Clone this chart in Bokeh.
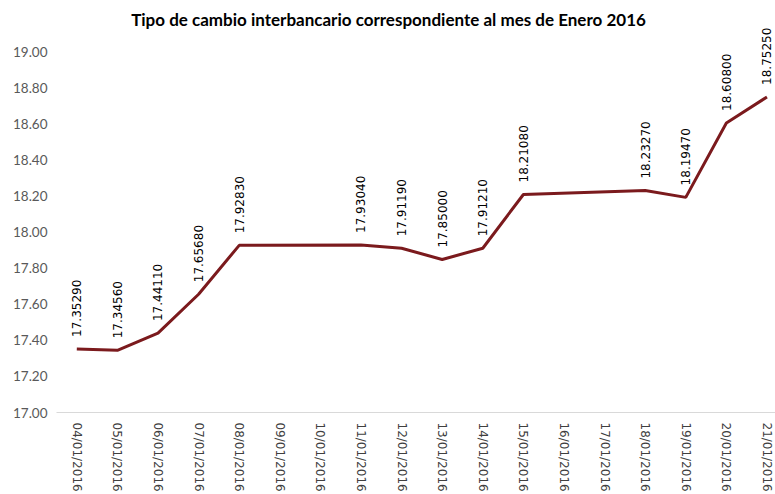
import math
from bokeh.plotting import figure
from bokeh.models import (ColumnDataSource, LabelSet, Label, FixedTicker, NumeralTickFormatter, Range1d)
from bokeh.core.properties import value
from bokeh.embed import file_html
from bokeh.resources import INLINE

# ---- data ----
dates = ["04/01/2016", "05/01/2016", "06/01/2016", "07/01/2016", "08/01/2016",
         "09/01/2016", "10/01/2016", "11/01/2016", "12/01/2016", "13/01/2016",
         "14/01/2016", "15/01/2016", "16/01/2016", "17/01/2016", "18/01/2016",
         "19/01/2016", "20/01/2016", "21/01/2016"]
obs_dates = ["04/01/2016", "05/01/2016", "06/01/2016", "07/01/2016", "08/01/2016",
             "11/01/2016", "12/01/2016", "13/01/2016", "14/01/2016", "15/01/2016",
             "18/01/2016", "19/01/2016", "20/01/2016", "21/01/2016"]
rates = [17.3529, 17.3456, 17.4411, 17.6568, 17.9283,
         17.9304, 17.9119, 17.8500, 17.9121, 18.2108,
         18.2327, 18.1947, 18.6080, 18.7525]
y_ticks = [17.0, 17.2, 17.4, 17.6, 17.8, 18.0, 18.2, 18.4, 18.6, 18.8, 19.0]
title_text = "Tipo de cambio interbancario correspondiente al mes de Enero 2016"

xs = [dates.index(d) for d in obs_dates]
src = ColumnDataSource(dict(x=xs, y=rates, lab=["%.5f" % r for r in rates]))

# the value axis runs 17.00-19.00 over 361 px; the plot area continues to the top edge
y_top = 17.0 + 2.0 * 413 / 361

p = figure(width=775, height=494, output_backend="svg", toolbar_location=None,
           x_range=Range1d(-0.5, 17.21), y_range=Range1d(17.0, y_top),
           min_border_left=56, min_border_right=0, min_border_bottom=81,
           min_border_top=0)
p.outline_line_color = None
p.xgrid.visible = False
p.ygrid.visible = False

title = Label(x=332, y=393, x_units="screen", y_units="screen", text=title_text,
              text_align="center", text_baseline="middle", text_font="Lato",
              text_font_style="bold", text_font_size="17px", text_color="#000000")
p.add_layout(title)

p.line("x", "y", source=src, line_color="#7b1a1d", line_width=3)

labels = LabelSet(x="x", y="y", text="lab", source=src, angle=math.pi / 2,
                  text_align="left", text_baseline="middle", y_offset=12,
                  text_font=value("DejaVu Sans"), text_font_size=value("12px"),
                  text_color="#000000")
p.add_layout(labels)

p.xaxis.ticker = FixedTicker(ticks=list(range(len(dates))))
p.xaxis.major_label_overrides = {i: d for i, d in enumerate(dates)}
p.xaxis.major_label_orientation = -math.pi / 2
p.xaxis.major_label_text_font = "DejaVu Sans"
p.xaxis.major_label_text_font_size = "12px"
p.xaxis.major_label_text_color = "#404040"
p.xaxis.axis_line_color = "#d9d9d9"
p.xaxis.axis_line_width = 1
p.xaxis.major_tick_line_color = None
p.xaxis.minor_tick_line_color = None
p.xaxis.major_label_standoff = 4

p.yaxis.ticker = FixedTicker(ticks=y_ticks)
p.yaxis.formatter = NumeralTickFormatter(format="0.00")
p.yaxis.major_label_text_font = "Lato"
p.yaxis.major_label_text_font_size = "13.5px"
p.yaxis.major_label_text_color = "#595959"
p.yaxis.axis_line_color = None
p.yaxis.major_tick_line_color = None
p.yaxis.minor_tick_line_color = None
p.yaxis.major_label_standoff = 3

open("out.html", "w").write(file_html(p, INLINE))
